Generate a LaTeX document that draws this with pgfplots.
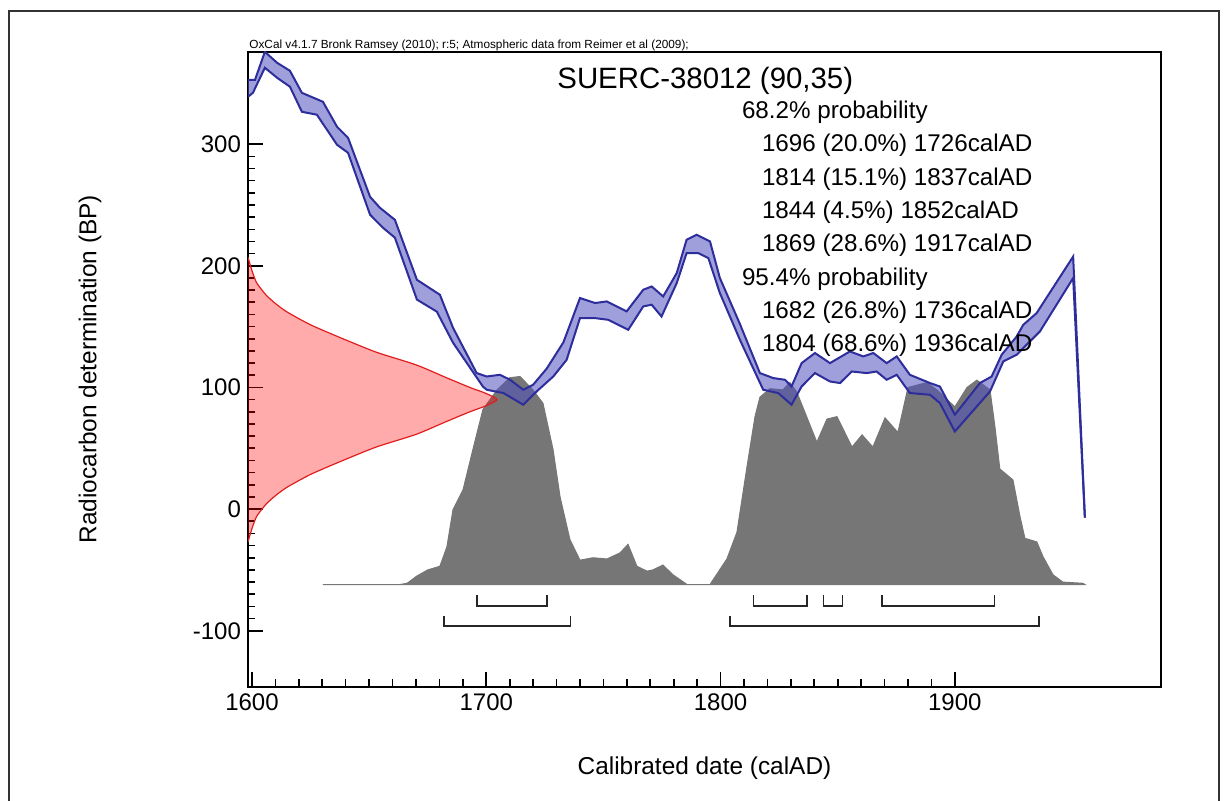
\documentclass[border=0pt]{standalone}
\usepackage{pgfplots}
\usepackage{pgfplotstable}
\pgfplotsset{compat=1.18}
\usepackage{fontspec}
\setmainfont{Liberation Sans}

\definecolor{calblue}{RGB}{45,45,155}
\definecolor{calfill}{RGB}{80,80,190}
\definecolor{probgray}{RGB}{118,118,118}
\definecolor{datered}{RGB}{225,30,30}

\pgfplotstableread{
yr val
1598.3 352.9
1601.3 352.9
1605.5 375.9
1610.7 366.9
1616.2 360.3
1621.3 342.2
1630.3 334.8
1636.3 314.3
1641.0 305.2
1650.4 256.7
1654.6 247.7
1661.0 237.8
1670.4 188.5
1680.2 176.2
1685.8 149.1
1695.9 111.8
1700.2 109.0
1705.8 110.4
1710.1 106.4
1715.8 98.1
1720.0 102.2
1725.8 115.5
1732.9 137.0
1740.0 173.5
1746.4 169.4
1751.4 170.7
1759.9 162.5
1767.0 180.3
1770.6 183.0
1775.5 174.8
1781.3 194.0
1785.5 221.4
1789.8 225.5
1795.5 220.0
1799.7 190.0
1808.3 152.0
1816.8 111.8
1822.5 107.7
1827.5 106.3
1830.3 100.8
1834.6 120.0
1840.3 128.3
1846.7 120.0
1855.2 129.6
1860.9 125.5
1865.2 128.3
1870.9 120.0
1875.2 125.5
1880.8 110.4
1889.4 103.6
1893.6 100.8
1900.0 77.6
1910.7 103.6
1915.7 109.0
1920.0 126.9
1926.4 141.9
1929.2 151.5
1934.9 161.1
1950.5 207.6
1955.5 -7.0
}\calupper

\pgfplotstableread{
yr val
1598.3 338.9
1600.4 342.2
1605.5 362.8
1610.7 354.6
1616.2 347.2
1621.3 326.6
1627.7 324.2
1636.3 299.5
1641.0 292.9
1650.4 242.0
1655.9 231.3
1661.0 223.1
1670.4 172.2
1678.9 162.3
1685.8 136.8
1698.6 100.6
1700.2 98.1
1707.3 95.4
1715.8 85.8
1721.5 96.7
1728.6 109.0
1734.3 122.7
1740.0 157.0
1746.4 157.0
1752.1 155.6
1760.6 147.4
1767.0 166.6
1770.6 168.0
1774.8 158.3
1781.3 185.8
1785.5 210.4
1790.5 210.4
1794.8 206.3
1799.7 177.6
1808.3 139.0
1818.2 98.1
1824.6 95.4
1830.3 85.8
1834.6 100.8
1840.3 111.8
1846.7 104.9
1851.0 103.6
1856.0 113.1
1862.4 111.8
1866.6 113.1
1870.9 106.3
1875.2 110.4
1880.8 95.4
1889.4 94.0
1893.6 87.2
1900.0 63.8
1915.0 96.7
1920.7 121.4
1926.4 126.9
1936.3 146.0
1950.5 189.9
1955.5 -7.0
}\callower

\begin{document}
\begin{tikzpicture}
\useasboundingbox (0pt,0pt) rectangle (615pt,-400.5pt);
\draw[line width=1pt, black!80] (4.5pt,-410pt) -- (4.5pt,-5.5pt) -- (609.5pt,-5.5pt) -- (609.5pt,-410pt);
\begin{axis}[
  at={(124pt,-25.85pt)}, anchor=north west,
  scale only axis, width=456.5pt, height=317.5pt,
  xmin=1598.3, xmax=1988, ymin=-146, ymax=376,
  axis line style={line width=1pt},
  xtick={1600,1700,1800,1900}, ytick={-100,0,100,200,300},
  minor x tick num=9, minor y tick num=9,
  tick align=inside, xtick pos=bottom, ytick pos=left,
  major tick length=7.5pt, minor tick length=3.7pt,
  tick style={line width=0.8pt, black},
  ticklabel style={font=\fontsize{12}{14}\selectfont},
  /pgf/number format/assume math mode=true,
  /pgf/number format/1000 sep={},
  xlabel={Calibrated date (calAD)},
  ylabel={Radiocarbon determination (BP)},
  label style={font=\fontsize{12.2}{14}\selectfont},
  xlabel style={at={(axis description cs:0.5,-0.128)}, anchor=center},
  ylabel style={at={(axis description cs:-0.173,0.5)}, anchor=center},
]
% posterior probability distribution
\addplot[draw=probgray, fill=probgray, line width=0.5pt] coordinates {
(1630.3,-62) (1663.2,-62) (1666.2,-61) (1670.4,-55) (1675,-50) (1680.2,-47)
(1683.2,-31) (1685.8,-0.5) (1690.1,16) (1694.3,49) (1698.6,82) (1704.6,98)
(1710.1,108) (1714.4,109) (1719.9,98) (1724.2,87) (1728.5,49) (1731.5,10)
(1735.7,-25) (1740,-42) (1745.5,-40) (1751.5,-41) (1757.1,-36) (1760.5,-29)
(1764.3,-47) (1768.6,-51) (1771.1,-50) (1775.4,-46) (1779.7,-54) (1785.7,-62)
(1795.5,-62) (1802.7,-41) (1807,-19) (1811.3,35) (1814.7,76) (1816.8,92)
(1821.1,99) (1826.6,98) (1829.6,104) (1832.6,96) (1841.1,55) (1845.4,74)
(1849.7,76) (1856.1,51) (1860.4,61) (1865,51) (1870.2,75) (1875.7,63)
(1880,100) (1888.1,104) (1892.4,98) (1900,84) (1905.2,100) (1909.4,106)
(1915,98) (1917.1,68) (1919.2,33) (1924.8,24) (1927.8,-6) (1929.9,-24)
(1935,-27) (1937.6,-39) (1941.9,-54) (1946.1,-60) (1954.7,-61) (1955.5,-62)
(1630.3,-62)
};
% radiocarbon measurement
\addplot[fill=red, fill opacity=0.33, draw=datered, line width=0.6pt, smooth, tension=0.4] coordinates {
(1598.3,207) (1600,196) (1602,186) (1606,176) (1610,169) (1615,162)
(1625,151.5) (1637.6,141) (1653,129) (1670,118.6) (1683,108) (1693,100)
(1700,95) (1704.6,90) (1700,85) (1693,80) (1683,72) (1670,61.4)
(1653,51) (1637.6,39) (1625,28.5) (1615,18) (1610,11) (1606,4)
(1602,-6) (1600,-16) (1598.3,-27)
};
% calibration curve band (upper edge forward, lower edge back)
\addplot[fill=calfill, fill opacity=0.55, draw=none] coordinates {
(1598.3,352.9) (1601.3,352.9) (1605.5,375.9) (1610.7,366.9) (1616.2,360.3)
(1621.3,342.2) (1630.3,334.8) (1636.3,314.3) (1641.0,305.2) (1650.4,256.7)
(1654.6,247.7) (1661.0,237.8) (1670.4,188.5) (1680.2,176.2) (1685.8,149.1)
(1695.9,111.8) (1700.2,109.0) (1705.8,110.4) (1710.1,106.4) (1715.8,98.1)
(1720.0,102.2) (1725.8,115.5) (1732.9,137.0) (1740.0,173.5) (1746.4,169.4)
(1751.4,170.7) (1759.9,162.5) (1767.0,180.3) (1770.6,183.0) (1775.5,174.8)
(1781.3,194.0) (1785.5,221.4) (1789.8,225.5) (1795.5,220.0) (1799.7,190.0)
(1808.3,152.0) (1816.8,111.8) (1822.5,107.7) (1827.5,106.3) (1830.3,100.8)
(1834.6,120.0) (1840.3,128.3) (1846.7,120.0) (1855.2,129.6) (1860.9,125.5)
(1865.2,128.3) (1870.9,120.0) (1875.2,125.5) (1880.8,110.4) (1889.4,103.6)
(1893.6,100.8) (1900.0,77.6) (1910.7,103.6) (1915.7,109.0) (1920.0,126.9)
(1926.4,141.9) (1929.2,151.5) (1934.9,161.1) (1950.5,207.6) (1955.5,-7.0)
(1950.5,189.9) (1936.3,146.0) (1926.4,126.9) (1920.7,121.4) (1915.0,96.7)
(1900.0,63.8) (1893.6,87.2) (1889.4,94.0) (1880.8,95.4) (1875.2,110.4)
(1870.9,106.3) (1866.6,113.1) (1862.4,111.8) (1856.0,113.1) (1851.0,103.6)
(1846.7,104.9) (1840.3,111.8) (1834.6,100.8) (1830.3,85.8) (1824.6,95.4)
(1818.2,98.1) (1808.3,139.0) (1799.7,177.6) (1794.8,206.3) (1790.5,210.4)
(1785.5,210.4) (1781.3,185.8) (1774.8,158.3) (1770.6,168.0) (1767.0,166.6)
(1760.6,147.4) (1752.1,155.6) (1746.4,157.0) (1740.0,157.0) (1734.3,122.7)
(1728.6,109.0) (1721.5,96.7) (1715.8,85.8) (1707.3,95.4) (1700.2,98.1)
(1698.6,100.6) (1685.8,136.8) (1678.9,162.3) (1670.4,172.2) (1661.0,223.1)
(1655.9,231.3) (1650.4,242.0) (1641.0,292.9) (1636.3,299.5) (1627.7,324.2)
(1621.3,326.6) (1616.2,347.2) (1610.7,354.6) (1605.5,362.8) (1600.4,342.2)
(1598.3,338.9)
};
\addplot[calblue, line width=1pt] table[x=yr, y=val] {\calupper};
\addplot[calblue, line width=1pt] table[x=yr, y=val] {\callower};
% ranges
\addplot[black!85, line width=0.8pt] coordinates {(1696,-71) (1696,-79.5) (1726,-79.5) (1726,-71)};
\addplot[black!85, line width=0.8pt] coordinates {(1814,-71) (1814,-79.5) (1837,-79.5) (1837,-71)};
\addplot[black!85, line width=0.8pt] coordinates {(1844,-71) (1844,-79.5) (1852,-79.5) (1852,-71)};
\addplot[black!85, line width=0.8pt] coordinates {(1869,-71) (1869,-79.5) (1917,-79.5) (1917,-71)};
\addplot[black!85, line width=0.8pt] coordinates {(1682,-87.5) (1682,-96) (1736,-96) (1736,-87.5)};
\addplot[black!85, line width=0.8pt] coordinates {(1804,-87.5) (1804,-96) (1936,-96) (1936,-87.5)};
\end{axis}
\node[anchor=base west, inner sep=0pt, font=\fontsize{5.9}{7}\selectfont] at (124.5pt,-24.2pt)
  {OxCal v4.1.7 Bronk Ramsey (2010); r:5; Atmospheric data from Reimer et al (2009);};
\node[anchor=base west, inner sep=0pt, font=\fontsize{14.7}{16}\selectfont] at (278.5pt,-44.4pt) {SUERC-38012 (90,35)};
\begin{scope}[every node/.style={anchor=base west, inner sep=0pt, font=\fontsize{12.1}{14}\selectfont}]
\node at (370.8pt,-59.35pt) {68.2\% probability};
\node at (380.8pt,-76pt) {1696 (20.0\%) 1726calAD};
\node at (380.8pt,-92.7pt) {1814 (15.1\%) 1837calAD};
\node at (380.8pt,-109.35pt) {1844 (4.5\%) 1852calAD};
\node at (380.8pt,-125.7pt) {1869 (28.6\%) 1917calAD};
\node at (370.8pt,-142.7pt) {95.4\% probability};
\node at (380.8pt,-159.35pt) {1682 (26.8\%) 1736calAD};
\node at (380.8pt,-175.7pt) {1804 (68.6\%) 1936calAD};
\end{scope}
\end{tikzpicture}
\end{document}
